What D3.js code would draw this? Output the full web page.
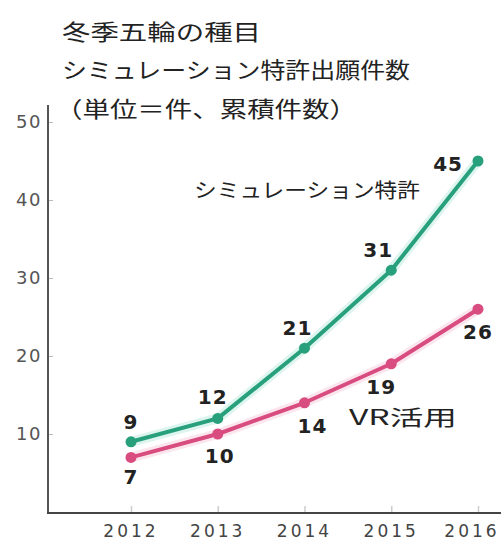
<!DOCTYPE html>
<html>
<head>
<meta charset="utf-8">
<script src="https://cdn.jsdelivr.net/npm/d3@7"></script>
<style>
  html, body { margin: 0; padding: 0; background: #fff; }
  svg { display: block; }
</style>
</head>
<body>
<svg id="chart" width="501" height="541"></svg>
<script>
// data
var years = [2012, 2013, 2014, 2015, 2016];
var simPatents = [9, 12, 21, 31, 45];
var vrPatents = [7, 10, 14, 19, 26];
var yTicks = [10, 20, 30, 40, 50];
var titleLines = ["冬季五輪の種目", "シミュレーション特許出願件数", "（単位＝件、累積件数）"];
var seriesNames = ["シミュレーション特許", "VR活用"];

var svg = d3.select("#chart");
var cjk = "'Noto Sans CJK JP', 'Noto Sans', sans-serif";
var num = "'DejaVu Sans', Verdana, sans-serif";

var x = d3.scaleLinear().domain([2012, 2016]).range([131, 478]);
var y = d3.scaleLinear().domain([0, 50]).range([512, 122]);

// title block
var titleLayout = [
	{ x: 62, y: 40, len: 199 },
	{ x: 62, y: 78, len: 348 },
	{ x: 55, y: 117, len: 302 }
];
svg.selectAll("text.title")
	.data(titleLines)
	.enter().append("text")
	.attr("class", "title")
	.attr("x", function (d, i) { return titleLayout[i].x; })
	.attr("y", function (d, i) { return titleLayout[i].y; })
	.attr("textLength", function (d, i) { return titleLayout[i].len; })
	.attr("lengthAdjust", "spacingAndGlyphs")
	.attr("font-family", cjk)
	.attr("font-size", 22)
	.attr("fill", "#222")
	.text(function (d) { return d; });

// y axis
var yAxis = d3.axisRight(y).tickValues(yTicks).tickSize(5).tickFormat("");
var gy = svg.append("g").attr("transform", "translate(48,0)").call(yAxis);
gy.select(".domain").remove();
gy.selectAll(".tick line").attr("stroke", "#bbb");
svg.append("line")
	.attr("x1", 48).attr("x2", 48)
	.attr("y1", 105).attr("y2", 514)
	.attr("stroke", "#555").attr("stroke-width", 2);

svg.selectAll("text.ytick")
	.data(yTicks)
	.enter().append("text")
	.attr("class", "ytick")
	.attr("x", 42)
	.attr("y", function (d) { return y(d) + 6; })
	.attr("text-anchor", "end")
	.attr("font-family", num)
	.attr("font-size", 18)
	.attr("letter-spacing", 1.5)
	.attr("fill", "#555")
	.text(function (d) { return d; });

// x axis
var xAxis = d3.axisBottom(x).tickValues(years).tickSize(7).tickFormat("");
var gx = svg.append("g").attr("transform", "translate(0,506)").call(xAxis);
gx.select(".domain").remove();
gx.selectAll(".tick line").attr("stroke", "#ccc").attr("stroke-width", 1.5);
svg.append("line")
	.attr("x1", 47).attr("x2", 501)
	.attr("y1", 513).attr("y2", 513)
	.attr("stroke", "#444").attr("stroke-width", 2);

svg.selectAll("text.xtick")
	.data(years)
	.enter().append("text")
	.attr("class", "xtick")
	.attr("x", function (d, i) { return i === years.length - 1 ? x(d) - 6 : x(d); })
	.attr("y", 537)
	.attr("text-anchor", "middle")
	.attr("font-family", num)
	.attr("font-size", 17)
	.attr("letter-spacing", 3)
	.attr("fill", "#444")
	.text(function (d) { return d; });

// series
var series = [
	{ values: simPatents, color: "#28a07c", halo: "#9fe3cf",
		labels: [[0, -13, "middle"], [-5, -14, "middle"], [-7, -13, "middle"], [-13, -13, "middle"], [-15, 10, "end"]] },
	{ values: vrPatents, color: "#d84c80", halo: "#f5b8cf",
		labels: [[0, 27, "middle"], [2, 29, "middle"], [8, 30, "middle"], [-10, 30, "middle"], [0, 30, "middle"]] }
];

var line = d3.line()
	.x(function (d, i) { return x(years[i]); })
	.y(function (d) { return y(d); });

series.forEach(function (s) {
	svg.append("path")
		.attr("d", line(s.values))
		.attr("fill", "none")
		.attr("stroke", s.halo)
		.attr("stroke-opacity", 0.35)
		.attr("stroke-width", 10)
		.attr("stroke-linejoin", "round");
	svg.append("path")
		.attr("d", line(s.values))
		.attr("fill", "none")
		.attr("stroke", s.color)
		.attr("stroke-width", 4)
		.attr("stroke-linejoin", "round");
	svg.selectAll(null)
		.data(s.values)
		.enter().append("circle")
		.attr("cx", function (d, i) { return x(years[i]); })
		.attr("cy", function (d) { return y(d); })
		.attr("r", 5.5)
		.attr("fill", s.color);
	svg.selectAll(null)
		.data(s.values)
		.enter().append("text")
		.attr("x", function (d, i) { return x(years[i]) + s.labels[i][0]; })
		.attr("y", function (d, i) { return y(d) + s.labels[i][1]; })
		.attr("text-anchor", function (d, i) { return s.labels[i][2]; })
		.attr("font-family", num)
		.attr("font-weight", "bold")
		.attr("font-size", 20)
		.attr("letter-spacing", 1)
		.attr("fill", "#222")
		.text(function (d) { return d; });
});

// series names
svg.append("text")
	.attr("x", 194).attr("y", 198)
	.attr("textLength", 226)
	.attr("lengthAdjust", "spacingAndGlyphs")
	.attr("font-family", cjk)
	.attr("font-size", 20)
	.attr("fill", "#222")
	.text(seriesNames[0]);
svg.append("text")
	.attr("x", 349).attr("y", 425)
	.attr("textLength", 108)
	.attr("lengthAdjust", "spacingAndGlyphs")
	.attr("font-family", cjk)
	.attr("font-size", 21)
	.attr("fill", "#222")
	.text(seriesNames[1]);
</script>
</body>
</html>
